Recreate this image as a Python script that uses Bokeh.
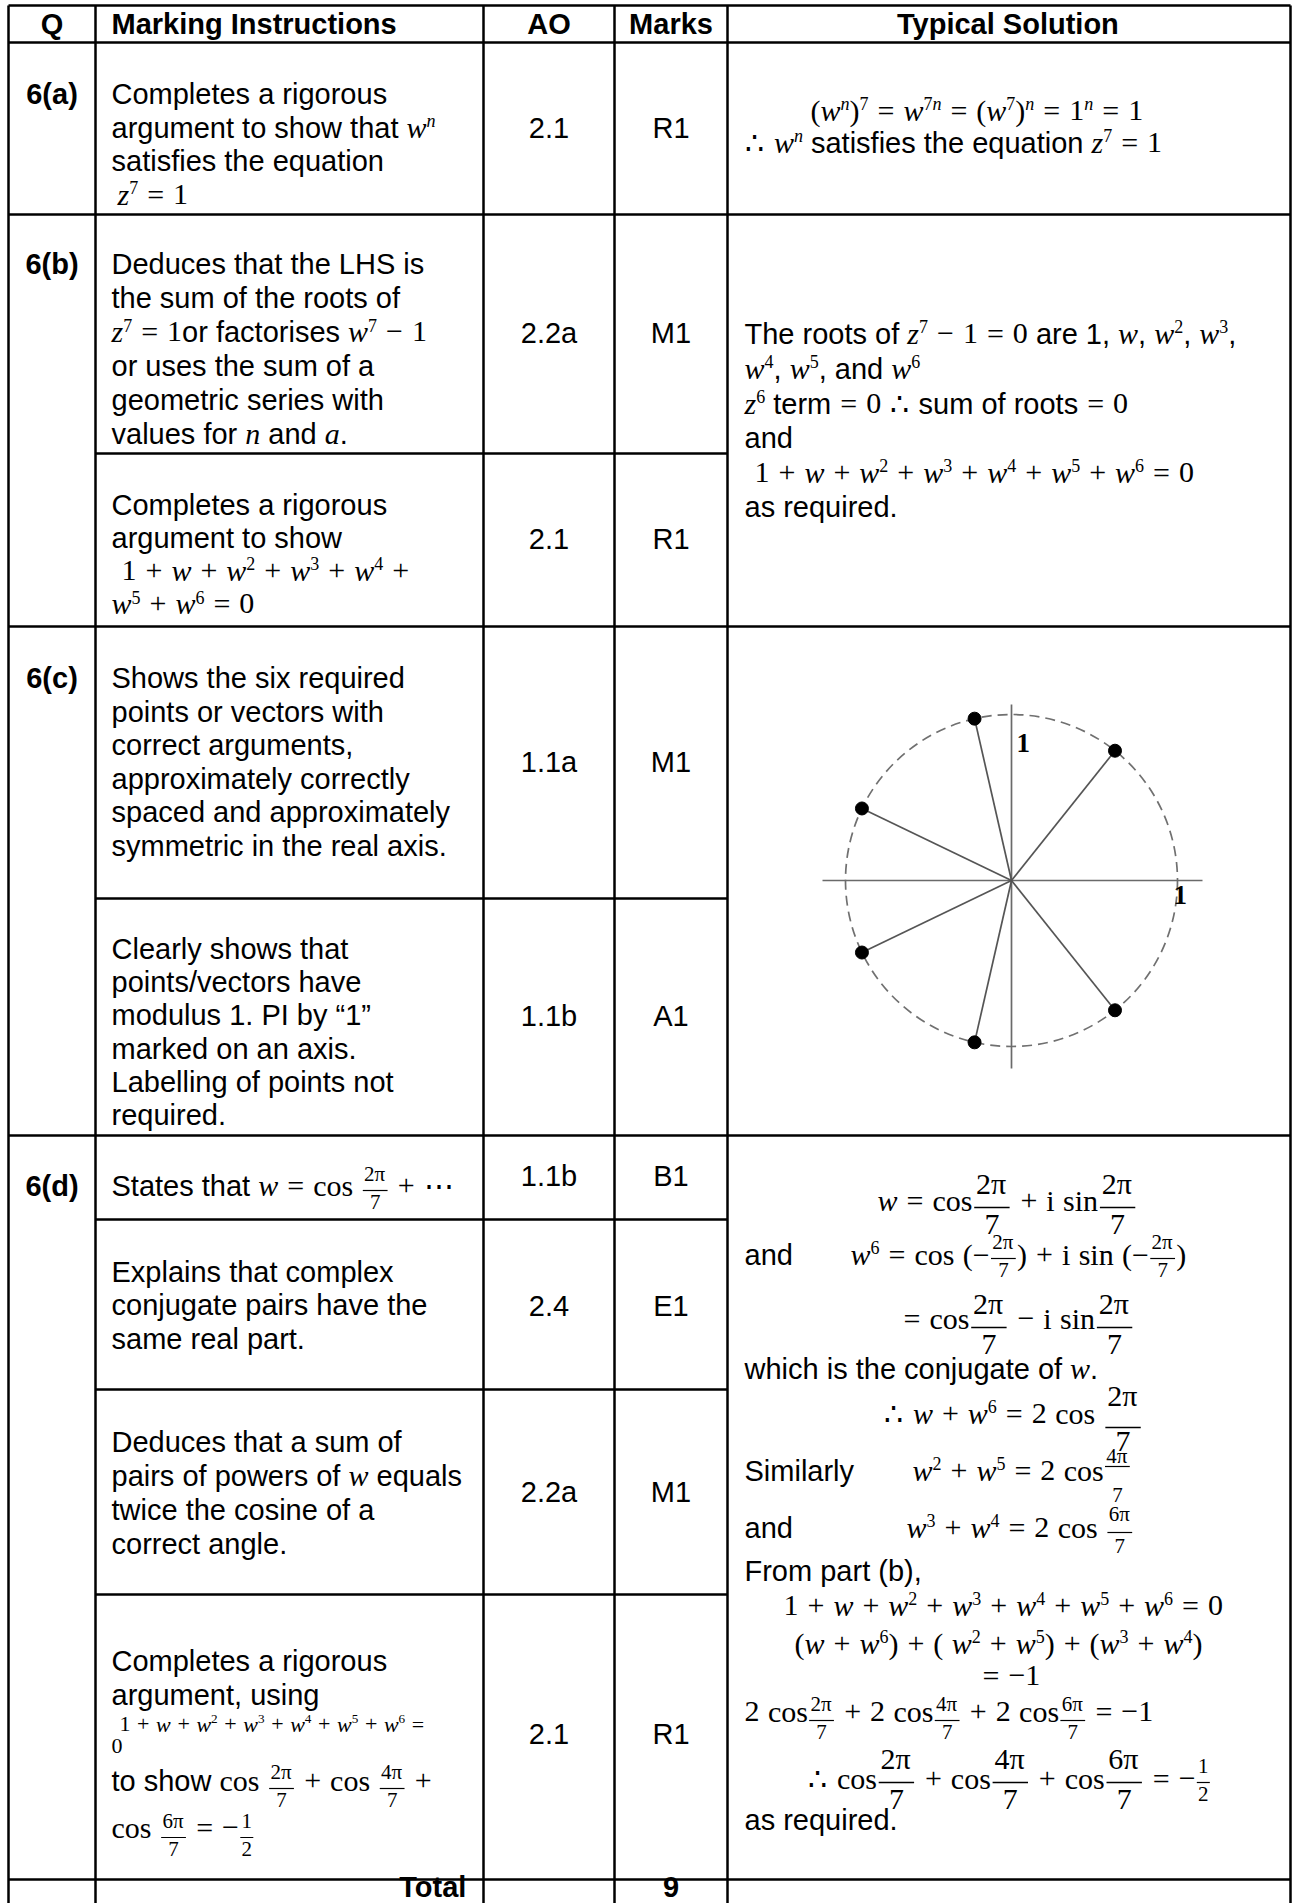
import math
from bokeh.plotting import figure
from bokeh.models import ColumnDataSource, Range1d
from bokeh.core.properties import value
from bokeh.embed import file_html
from bokeh.resources import INLINE

# ---------------- table content (data) ----------------
headers = ["Q", "Marking Instructions", "AO", "Marks", "Typical Solution"]
questions = ["6(a)", "6(b)", "6(c)", "6(d)"]
ao_codes = ["2.1", "2.2a", "2.1", "1.1a", "1.1b", "1.1b", "2.4", "2.2a", "2.1"]
marks = ["R1", "M1", "R1", "M1", "A1", "B1", "E1", "M1", "R1"]
total_label = "Total"
total_marks = "9"

# roots of z^7 = 1 drawn in the Argand diagram (w^k, k = 1..6), modulus 1
n_roots = 7
root_k = [1, 2, 3, 4, 5, 6]
modulus = 1.0
axis_label = "1"

# ---------------- page geometry (reference pixels) ----------------
W, H = 1294, 1903
X0, XQ, XA, XM, XT, X1 = 8, 95, 483, 614, 727, 1290
YTOP, YHEAD = 5, 42
Y_ROWS = [214, 626, 1135, 1879]          # full-width row borders
Y_SUB = [453, 898, 1219, 1389, 1594]      # sub-row borders (MI/AO/Marks only)
YBOT = H

FS = 29          # Arial body size
MS = 30          # math size
BIGF = 30
SMALLF = 21
SUP = 0.6
SUPRAISE = 0.36
OPPAD = 0.3
SPACE = 0.28
TEXT_SHIFT = 0.34   # renderer puts alphabetic baseline this many em lower

ARIAL = {' ': 278, '!': 278, '"': 355, '(': 333, ')': 333, ',': 278, '-': 333, '.': 278,
         '/': 278, ':': 278, '=': 584, '+': 584, '“': 333, '”': 333,
         'A': 667, 'B': 667, 'C': 722, 'D': 722, 'E': 667, 'F': 611, 'G': 778, 'H': 722,
         'I': 278, 'J': 500, 'K': 667, 'L': 556, 'M': 833, 'N': 722, 'O': 778, 'P': 667,
         'Q': 778, 'R': 722, 'S': 667, 'T': 611, 'U': 722, 'V': 667, 'W': 944, 'X': 667,
         'Y': 667, 'Z': 611,
         'a': 556, 'b': 556, 'c': 500, 'd': 556, 'e': 556, 'f': 278, 'g': 556, 'h': 556,
         'i': 222, 'j': 222, 'k': 500, 'l': 222, 'm': 833, 'n': 556, 'o': 556, 'p': 556,
         'q': 556, 'r': 333, 's': 500, 't': 278, 'u': 556, 'v': 500, 'w': 722, 'x': 500,
         'y': 500, 'z': 500}
for d in "0123456789":
    ARIAL[d] = 556
ARIALB = dict(ARIAL)
ARIALB.update({'A': 722, 'B': 722, 'L': 611, 'a': 556, 'b': 611, 'c': 556, 'd': 611, 'e': 556,
               'f': 333, 'g': 611, 'h': 611, 'i': 278, 'j': 278, 'k': 556, 'l': 278, 'm': 889,
               'n': 611, 'o': 611, 'p': 611, 'q': 611, 'r': 389, 's': 556, 't': 333, 'u': 611,
               'v': 556, 'w': 778, 'x': 556, 'y': 556})
TIMES = {' ': 250, '(': 333, ')': 333, ',': 250, '.': 250, '+': 564, '=': 564, '−': 564,
         '-': 333, 'a': 444, 'c': 444, 'i': 278, 'n': 500, 'o': 500, 's': 389, 'π': 560,
         '∴': 700, '⋯': 1000}
for d in "0123456789":
    TIMES[d] = 500
TIMESI = dict(TIMES)
TIMESI.update({'w': 667, 'z': 389, 'n': 500, 'a': 500})
TABLES = {'t': ARIAL, 'b': ARIALB, 'mr': TIMES, 'mi': TIMESI, 'sb': TIMES}
FONTS = {'t': ("Liberation Sans", "normal"), 'b': ("Liberation Sans", "bold"),
         'mr': ("Liberation Serif", "normal"), 'mi': ("Liberation Serif", "italic"),
         'sb': ("Liberation Serif", "bold")}


def width(s, key, size):
    tab = TABLES[key]
    return sum(tab.get(ch, 600) for ch in s) * size / 1000.0


def math_tokens(s, size, state):
    out = []
    i = 0
    while i < len(s):
        c = s[i]
        if c == '^':
            i += 1
            if s[i] == '{':
                j = s.index('}', i)
                sup = s[i + 1:j]
                i = j + 1
            else:
                sup = s[i]
                i += 1
            for ch in sup:
                out.append(('tok', 'mi' if ch.isalpha() else 'mr', size * SUP, -SUPRAISE * size, ch))
            state['prev'] = True
        elif c.isalpha() and c != 'π':
            j = i
            while j < len(s) and s[j].isalpha() and s[j] != 'π':
                j += 1
            word = s[i:j]
            i = j
            key = 'mr' if word in ('cos', 'sin', 'i') else 'mi'
            out.append(('tok', key, size, 0, word))
            state['prev'] = True
        elif c in '+=' or (c == '−' and state['prev']):
            out += [('pad', OPPAD * size, 'op'), ('tok', 'mr', size, 0, c), ('pad', OPPAD * size, 'op')]
            state['prev'] = False
            i += 1
        elif c == ' ':
            nxt = s[i + 1] if i + 1 < len(s) else ''
            after_op = bool(out) and out[-1][0] == 'pad' and len(out[-1]) > 2
            before_op = nxt in ('+', '=') or (nxt == '−' and state['prev'])
            if not (after_op or before_op):
                out.append(('pad', SPACE * size))
            i += 1
        else:
            out.append(('tok', 'mr', size, 0, c))
            state['prev'] = c not in '(−∴'
            i += 1
    merged = []
    for t in out:
        if t[0] == 'tok' and merged and merged[-1][0] == 'tok' and merged[-1][1:4] == t[1:4]:
            merged[-1] = ('tok', t[1], t[2], t[3], merged[-1][4] + t[4])
        else:
            merged.append(t)
    return merged


def layout(segs):
    ops = []
    x = 0.0
    state = {'prev': False}
    for seg in segs:
        kind = seg[0]
        if kind in ('t', 'b'):
            s = seg[1]
            size = seg[2] if len(seg) > 2 else FS
            ops.append(('txt', kind, size, x, 0, s))
            x += width(s, kind, size)
            state['prev'] = False
        elif kind == 'g':
            x += seg[1]
        elif kind == 'm':
            size = seg[2] if len(seg) > 2 else MS
            for tok in math_tokens(seg[1], size, state):
                if tok[0] == 'pad':
                    x += tok[1]
                else:
                    _, key, sz, dy, s = tok
                    ops.append(('txt', key, sz, x, dy, s))
                    x += width(s, key, sz)
        elif kind == 'f':
            num, den, fk = seg[1], seg[2], seg[3]
            bar_dy = seg[4] if len(seg) > 4 else -4
            sz = BIGF if fk == 'b' else SMALLF
            g1 = seg[5] if len(seg) > 5 else (14 if fk == 'b' else 9)
            g2 = seg[6] if len(seg) > 6 else (27 if fk == 'b' else 19)
            nt = [t for t in math_tokens(num, sz, {'prev': False}) if t[0] == 'tok']
            dt = [t for t in math_tokens(den, sz, {'prev': False}) if t[0] == 'tok']
            wn = sum(width(t[4], t[1], t[2]) for t in nt)
            wd = sum(width(t[4], t[1], t[2]) for t in dt)
            wbar = max(wn, wd) + 0.12 * sz
            x += 0.06 * sz
            xx = x + (wbar - wn) / 2
            for t in nt:
                ops.append(('txt', t[1], t[2], xx, bar_dy - g1, t[4]))
                xx += width(t[4], t[1], t[2])
            xx = x + (wbar - wd) / 2
            for t in dt:
                ops.append(('txt', t[1], t[2], xx, bar_dy + g2, t[4]))
                xx += width(t[4], t[1], t[2])
            ops.append(('bar', x, x + wbar, bar_dy, 1.6 if fk == 'b' else 1.2))
            x += wbar + 0.06 * sz
            state['prev'] = True
    return ops, x


groups = {}
bars = {'x0': [], 'x1': [], 'y': [], 'w': []}


def emit(key, size, x, y, s):
    lead = len(s) - len(s.lstrip(' '))
    if lead:
        x += width(s[:lead], key, size)
    s = s.strip(' ')
    if not s:
        return
    g = groups.setdefault((key, round(size, 2)), {'x': [], 'y': [], 'text': []})
    g['x'].append(x)
    g['y'].append(y - TEXT_SHIFT * size)
    g['text'].append(s)


def place(x, y, segs, align='l'):
    ops, w = layout(segs)
    if align == 'c':
        x -= w / 2
    elif align == 'r':
        x -= w
    for op in ops:
        if op[0] == 'txt':
            _, key, size, dx, dy, s = op
            emit(key, size, x + dx, y + dy, s)
        else:
            _, a, b, dy, lw = op
            bars['x0'].append(x + a)
            bars['x1'].append(x + b)
            bars['y'].append(y + dy)
            bars['w'].append(lw)


def T(s):
    return ('t', s)


def M(s, size=MS):
    return ('m', s, size)


def F(num, den, kind='s', bar_dy=-4, g1=None, g2=None):
    seg = ['f', num, den, kind, bar_dy]
    if g1 is not None:
        seg += [g1, g2]
    return tuple(seg)


def G(px):
    return ('g', px)


def block(x, y0, step, lines):
    for k, ln in enumerate(lines):
        if isinstance(ln, str):
            ln = [T(ln)]
        place(x, y0 + k * step, ln)


# ---------------- header ----------------
HB = 33
place((X0 + XQ) / 2, HB, [('b', headers[0])], 'c')
place(111, HB, [('b', headers[1])])
place((XA + XM) / 2, HB, [('b', headers[2])], 'c')
place((XM + XT) / 2, HB, [('b', headers[3])], 'c')
place((XT + X1) / 2, HB, [('b', headers[4])], 'c')

# ---------------- Q column ----------------
q_base = [103.5, 273.6, 687.6, 1195]
for q, yb in zip(questions, q_base):
    place((X0 + XQ) / 2, yb, [('b', q)], 'c')

# ---------------- AO / Marks ----------------
am_base = [137.5, 342, 548, 771, 1025, 1185, 1315, 1501, 1743]
for a, m, yb in zip(ao_codes, marks, am_base):
    place((XA + XM) / 2, yb, [T(a)], 'c')
    place((XM + XT) / 2, yb, [T(m)], 'c')

place(XA - 15, 1896, [('b', total_label)], 'r')
place((XM + XT) / 2, 1896, [('b', total_marks)], 'c')

# ---------------- Marking instructions ----------------
MX = 111
block(MX, 103.5, 33.6, [
    "Completes a rigorous",
    [T("argument to show that "), M("w^n")],
    "satisfies the equation",
    [G(6), M("z^7 = 1")],
])
block(MX, 273.6, 34.0, [
    "Deduces that the LHS is",
    "the sum of the roots of",
    [M("z^7 = 1"), T("or factorises "), M("w^7 − 1")],
    "or uses the sum of a",
    "geometric series with",
    [T("values for "), M("n"), T(" and "), M("a"), T(".")],
])
block(MX, 514, 33.2, [
    "Completes a rigorous",
    "argument to show",
    [G(10), M("1 + w + w^2 + w^3 + w^4 +")],
    [M("w^5 + w^6 = 0")],
])
block(MX, 687.6, 33.5, [
    "Shows the six required",
    "points or vectors with",
    "correct arguments,",
    "approximately correctly",
    "spaced and approximately",
    "symmetric in the real axis.",
])
block(MX, 958, 33.3, [
    "Clearly shows that",
    "points/vectors have",
    "modulus 1. PI by “1”",
    "marked on an axis.",
    "Labelling of points not",
    "required.",
])
place(MX, 1195, [T("States that "), M("w = cos "), F("2π", "7", 's', -5), M("+ ⋯")])
block(MX, 1281, 33.5, [
    "Explains that complex",
    "conjugate pairs have the",
    "same real part.",
])
block(MX, 1451, 34.0, [
    "Deduces that a sum of",
    [T("pairs of powers of "), M("w"), T(" equals")],
    "twice the cosine of a",
    "correct angle.",
])
block(MX, 1670, 34.0, ["Completes a rigorous", "argument, using"])
place(MX + 8, 1731, [M("1 + w + w^2 + w^3 + w^4 + w^5 + w^6 =", 22)])
place(MX, 1753, [M("0", 22)])
place(MX, 1790, [T("to show "), M("cos "), F("2π", "7", 's', -2), M("+ cos "), F("4π", "7", 's', -2), M("+")])
place(MX, 1837, [M("cos "), F("6π", "7", 's', 0), M(" = −"), F("1", "2", 's', 0)])

# ---------------- Typical solution ----------------
TX = 744
place(810, 120, [M("(w^n)^7 = w^{7n} = (w^7)^n = 1^n = 1")])
place(TX, 152, [M("∴ w^n"), T(" satisfies the equation "), M("z^7 = 1")])

place(TX, 343, [T("The roots of "), M("z^7 − 1 = 0"), T(" are 1, "), M("w"), T(", "),
                M("w^2"), T(", "), M("w^3"), T(",")])
place(TX, 378, [M("w^4"), T(", "), M("w^5"), T(", and "), M("w^6")])
place(TX, 413, [M("z^6"), T(" term"), M("= 0 ∴"), T(" sum of roots"), M("= 0")])
place(TX, 447, [T("and")])
place(TX + 10, 482, [M("1 + w + w^2 + w^3 + w^4 + w^5 + w^6 = 0")])
place(TX, 516, [T("as required.")])

place(877, 1210, [M("w = cos"), F("2π", "7", 'b', -3), M("+ i sin"), F("2π", "7", 'b', -3)])
place(TX, 1264, [T("and")])
place(850, 1264, [M("w^6 = cos (−"), F("2π", "7", 's', -6), M(") + i sin (−"), F("2π", "7", 's', -6), M(")")])
place(894, 1328, [M("= cos"), F("2π", "7", 'b', -1), M("− i sin"), F("2π", "7", 'b', -1)])
place(TX, 1378, [T("which is the conjugate of "), M("w"), T(".")])
place(883, 1423, [M("∴ w + w^6 = 2 cos "), F("2π", "7", 'b', 4, 22, 24)])
place(TX, 1480, [T("Similarly")])
place(912, 1480, [M("w^2 + w^5 = 2 cos"), F("4π", "7", 's', -14, 3, 36)])
place(TX, 1537, [T("and")])
place(906, 1537, [M("w^3 + w^4 = 2 cos "), F("6π", "7", 's', -5, 11, 21)])
place(TX, 1580, [T("From part (b),")])
place(783, 1615, [M("1 + w + w^2 + w^3 + w^4 + w^5 + w^6 = 0")])
place(794, 1653, [M("(w + w^6) + ( w^2 + w^5) + (w^3 + w^4)")])
place(973, 1685, [M("= −1")])
place(TX, 1721, [M("2 cos"), F("2π", "7", 's', -1), M("+ 2 cos"), F("4π", "7", 's', -1),
                 M("+ 2 cos"), F("6π", "7", 's', -1), M("= −1")])
place(807, 1788, [M("∴ cos"), F("2π", "7", 'b', -6), M("+ cos"), F("4π", "7", 'b', -6),
                  M("+ cos"), F("6π", "7", 'b', -6), M(" = −"), F("1", "2", 's', -6)])
place(TX, 1829, [T("as required.")])

# ---------------- figure ----------------
p = figure(width=W, height=H, x_range=Range1d(0, W), y_range=Range1d(H, 0),
           output_backend="svg", toolbar_location=None, x_axis_location=None,
           y_axis_location=None, min_border=0)
p.outline_line_color = None
p.grid.visible = False
p.background_fill_color = "white"
p.border_fill_color = "white"

# table rules
hx0, hx1, hy = [], [], []
for y in [YTOP, YHEAD] + Y_ROWS:
    hx0.append(X0); hx1.append(X1); hy.append(y)
for y in Y_SUB:
    hx0.append(XQ); hx1.append(XT); hy.append(y)
p.segment(x0=hx0, y0=hy, x1=hx1, y1=hy, line_color="black", line_width=2.5)
vx = [X0, XQ, XA, XM, XT, X1]
p.segment(x0=vx, y0=[YTOP] * len(vx), x1=vx, y1=[YBOT] * len(vx), line_color="black", line_width=2.5)

# Argand diagram
CX, CY, R = 1011, 880, 166
theta = [2 * math.pi * k / n_roots for k in root_k]
px = [CX + R * modulus * math.cos(t) for t in theta]
py = [CY - R * modulus * math.sin(t) for t in theta]
p.circle(x=[CX], y=[CY], radius=R * modulus, fill_color=None, line_color="#707070",
         line_dash="10 6", line_width=1.7)
p.segment(x0=[CX - 189, CX], y0=[CY, CY - 176], x1=[CX + 191, CX], y1=[CY, CY + 188],
          line_color="#6a6a6a", line_width=1.7)
p.segment(x0=[CX] * len(px), y0=[CY] * len(px), x1=px, y1=py, line_color="#555555", line_width=1.7)
p.scatter(px, py, size=13, color="black")
emit('sb', 27, CX + 5, CY - R * modulus + 38, axis_label)
emit('sb', 27, CX + R * modulus - 4, CY + 24, axis_label)

# fraction bars
p.segment(x0='x0', y0='y', x1='x1', y1='y', line_width='w', line_color="black",
          source=ColumnDataSource(bars))

# texts
for (key, size), g in groups.items():
    font, style = FONTS[key]
    p.text(x='x', y='y', text='text', source=ColumnDataSource(g),
           text_font=value(font), text_font_style=style,
           text_font_size=value(f"{size}px"), text_color="black",
           text_baseline="alphabetic", text_align="left")

open("out.html", "w").write(file_html(p, INLINE))
